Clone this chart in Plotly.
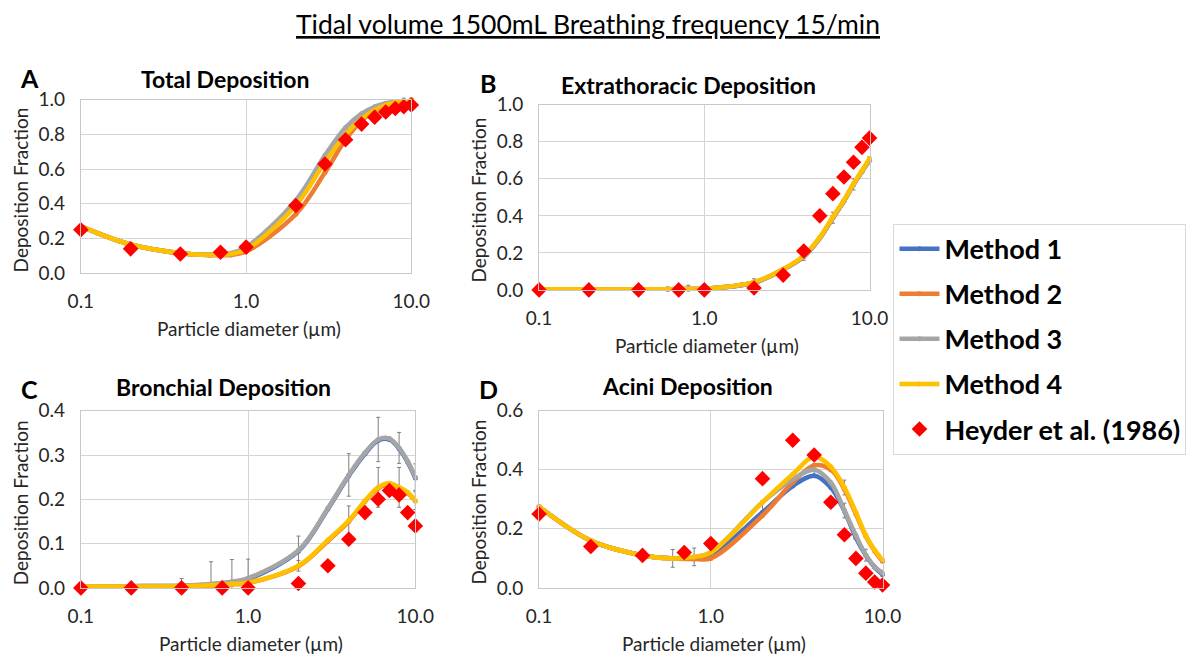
import plotly.graph_objects as go

# ---------------- data ----------------
model_d = [0.1, 0.2, 0.4, 0.6, 0.8, 1.0, 2, 3, 4, 5, 6, 7, 8, 9, 10]
heyder_d = [0.1, 0.2, 0.4, 0.7, 1.0, 2, 3, 4, 5, 6, 7, 8, 9, 10]

# Panel A: total deposition
tot_m1 = [0.27, 0.165, 0.115, 0.105, 0.11, 0.135, 0.40, 0.65, 0.80, 0.89, 0.94, 0.97, 0.985, 0.99, 1.0]
tot_m2 = [0.27, 0.165, 0.115, 0.105, 0.105, 0.125, 0.34, 0.58, 0.77, 0.88, 0.94, 0.97, 0.985, 0.99, 1.0]
tot_m3 = [0.27, 0.165, 0.115, 0.105, 0.115, 0.15, 0.42, 0.68, 0.84, 0.92, 0.96, 0.98, 0.99, 1.0, 1.0]
tot_m4 = [0.27, 0.165, 0.115, 0.105, 0.11, 0.135, 0.39, 0.64, 0.80, 0.89, 0.94, 0.97, 0.985, 0.99, 1.0]
tot_hey = [0.25, 0.14, 0.11, 0.12, 0.15, 0.39, 0.63, 0.77, 0.86, 0.90, 0.93, 0.95, 0.96, 0.97]

# Panel B: extrathoracic deposition
et_m1 = [0.003, 0.003, 0.003, 0.004, 0.005, 0.006, 0.04, 0.11, 0.18, 0.28, 0.39, 0.48, 0.57, 0.64, 0.70]
et_m2 = [0.003, 0.003, 0.003, 0.004, 0.005, 0.006, 0.04, 0.11, 0.18, 0.28, 0.39, 0.48, 0.57, 0.64, 0.70]
et_m3 = [0.003, 0.003, 0.003, 0.004, 0.005, 0.006, 0.04, 0.11, 0.18, 0.28, 0.39, 0.48, 0.57, 0.64, 0.70]
et_m4 = [0.003, 0.003, 0.003, 0.004, 0.005, 0.006, 0.042, 0.112, 0.185, 0.285, 0.395, 0.485, 0.575, 0.645, 0.71]
et_hey = [0.0, 0.0, 0.0, 0.0, 0.0, 0.01, 0.08, 0.21, 0.40, 0.52, 0.61, 0.69, 0.77, 0.82]

# Panel C: bronchial deposition
br_m1 = [0.004, 0.004, 0.005, 0.008, 0.013, 0.02, 0.083, 0.178, 0.253, 0.303, 0.333, 0.335, 0.314, 0.284, 0.248]
br_m2 = [0.003, 0.003, 0.004, 0.005, 0.008, 0.011, 0.049, 0.106, 0.150, 0.195, 0.225, 0.234, 0.226, 0.214, 0.196]
br_m3 = [0.004, 0.004, 0.005, 0.009, 0.014, 0.022, 0.085, 0.18, 0.255, 0.305, 0.335, 0.337, 0.316, 0.286, 0.25]
br_m4 = [0.003, 0.003, 0.004, 0.006, 0.009, 0.012, 0.05, 0.108, 0.152, 0.197, 0.227, 0.236, 0.227, 0.216, 0.197]
br_hey = [0.0, 0.0, 0.0, 0.0, 0.0, 0.01, 0.05, 0.11, 0.17, 0.20, 0.22, 0.21, 0.17, 0.14]

# Panel D: acini deposition
ac_m1 = [0.275, 0.16, 0.11, 0.10, 0.10, 0.11, 0.256, 0.345, 0.38, 0.34, 0.26, 0.17, 0.11, 0.07, 0.045]
ac_m2 = [0.275, 0.16, 0.11, 0.10, 0.098, 0.10, 0.245, 0.357, 0.415, 0.40, 0.334, 0.25, 0.175, 0.125, 0.09]
ac_m3 = [0.275, 0.16, 0.11, 0.10, 0.105, 0.12, 0.29, 0.368, 0.40, 0.357, 0.262, 0.178, 0.111, 0.072, 0.05]
ac_m4 = [0.275, 0.16, 0.11, 0.10, 0.105, 0.12, 0.29, 0.385, 0.444, 0.41, 0.34, 0.256, 0.178, 0.128, 0.095]
ac_hey = [0.25, 0.14, 0.11, 0.12, 0.15, 0.37, 0.50, 0.45, 0.29, 0.18, 0.10, 0.05, 0.02, 0.01]

# error bars (standard deviations at selected diameters)
err_d = [0.4, 0.6, 0.8, 1.0, 2, 4, 6, 8, 10]
et_err_y = [0.003, 0.004, 0.005, 0.006, 0.04, 0.18, 0.39, 0.57, 0.70]
et_err = [0.004, 0.012, 0.02, 0.022, 0.02, 0.02, 0.03, 0.03, 0.02]
br_err_y = [0.005, 0.009, 0.014, 0.022, 0.085, 0.255, 0.335, 0.316, 0.25]
br_err = [0.016, 0.05, 0.05, 0.043, 0.032, 0.048, 0.05, 0.035, 0.03]
br4_err_d = [2, 4, 6, 8, 10]
br4_err_y = [0.05, 0.152, 0.227, 0.227, 0.197]
br4_err = [0.012, 0.033, 0.045, 0.045, 0.02]
ac_err_d = [0.6, 0.8, 2, 4, 6, 8, 10]
ac_err_y = [0.10, 0.105, 0.27, 0.40, 0.262, 0.111, 0.05]
ac_err = [0.03, 0.03, 0.02, 0.02, 0.025, 0.02, 0.01]
ac4_err_d = [6]
ac4_err_y = [0.34]
ac4_err = [0.025]

method_names = ["Method 1", "Method 2", "Method 3", "Method 4"]
method_colors = ["#4472C4", "#ED7D31", "#A5A5A5", "#FFC000"]
x_ticks = [0.1, 1, 10]
x_ticktext = ["0.1", "1.0", "10.0"]

panels = [
    dict(m=[tot_m1, tot_m2, tot_m3, tot_m4], hey=tot_hey, rng=[0, 1.0], dt=0.2,
         dom_x=(83, 414), dom_y=(97, 272), title="Total Deposition", letter="A",
         title_pos=(227, 76), errs=[]),
    dict(m=[et_m1, et_m2, et_m3, et_m4], hey=et_hey, rng=[0, 1.0], dt=0.2,
         dom_x=(542, 873), dom_y=(102, 289), title="Extrathoracic Deposition", letter="B",
         title_pos=(692, 82), errs=[(err_d, et_err_y, et_err)]),
    dict(m=[br_m1, br_m2, br_m3, br_m4], hey=br_hey, rng=[0, 0.4], dt=0.1,
         dom_x=(83, 418), dom_y=(411, 590), title="Bronchial Deposition", letter="C",
         title_pos=(226, 387), errs=[(err_d, br_err_y, br_err), (br4_err_d, br4_err_y, br4_err)]),
    dict(m=[ac_m1, ac_m2, ac_m3, ac_m4], hey=ac_hey, rng=[0, 0.6], dt=0.2,
         dom_x=(542, 886), dom_y=(411, 590), title="Acini Deposition", letter="D",
         title_pos=(691, 386), errs=[(ac_err_d, ac_err_y, ac_err), (ac4_err_d, ac4_err_y, ac4_err)]),
]

W, H = 1200, 662
S = 0.975  # layout scale compensation


def PX(x):
    return (600 + (x - 600) / S) / W


def PY(y):
    return 1 - (331 + (y - 331) / S) / H


FONT = "Lato, 'Open Sans', sans-serif"

fig = go.Figure()
annotations = []

for i, p in enumerate(panels):
    sfx = "" if i == 0 else str(i + 1)
    xa, ya = "x" + sfx, "y" + sfx
    for (ex, ey, ev) in p["errs"]:
        fig.add_trace(go.Scatter(
            x=ex, y=ey, mode="markers", marker=dict(size=1, opacity=0),
            error_y=dict(type="data", array=ev, color="#7f7f7f", thickness=1, width=2),
            showlegend=False, hoverinfo="skip", xaxis=xa, yaxis=ya, cliponaxis=False))
    for k in range(4):
        fig.add_trace(go.Scatter(
            x=model_d, y=p["m"][k], mode="lines+markers", name=method_names[k],
            line=dict(color=method_colors[k], width=4.5, shape="spline", smoothing=1.0),
            marker=dict(size=5, color=method_colors[k]),
            legendgroup=method_names[k], showlegend=(i == 0),
            xaxis=xa, yaxis=ya, cliponaxis=False))
    fig.add_trace(go.Scatter(
        x=heyder_d, y=p["hey"], mode="markers", name="Heyder et al. (1986)",
        marker=dict(symbol="diamond", size=12, color="#FF0000"),
        legendgroup="heyder", showlegend=(i == 0),
        xaxis=xa, yaxis=ya, cliponaxis=False))

    x0, x1 = p["dom_x"]
    y0, y1 = p["dom_y"]
    common = dict(showline=True, mirror=True, linecolor="#c8c8c8", linewidth=1,
                  gridcolor="#d4d4d4", gridwidth=1, zeroline=False,
                  tickfont=dict(family=FONT, size=19, color="#262626"), ticks="")
    fig.update_layout(**{
        "xaxis" + sfx: dict(domain=[PX(x0), PX(x1)], anchor=ya, type="log", range=[-1, 1],
                            tickvals=x_ticks, ticktext=x_ticktext, ticklabelstandoff=11, **common),
        "yaxis" + sfx: dict(domain=[PY(y1), PY(y0)], anchor=xa, range=p["rng"],
                            dtick=p["dt"], tick0=0, tickformat=".1f", ticklabelstandoff=11, **common),
    })
    cx = (x0 + x1) / 2
    tx, ty = p["title_pos"]
    annotations.append(dict(text="<b>" + p["title"] + "</b>", x=PX(tx), y=PY(ty),
                            xref="paper", yref="paper", showarrow=False, xanchor="center",
                            yanchor="middle", font=dict(family=FONT, size=23, color="black")))
    annotations.append(dict(text="<b>" + p["letter"] + "</b>", x=PX(x0 - 51), y=PY(y0 - 22),
                            xref="paper", yref="paper", showarrow=False, xanchor="center",
                            yanchor="middle", font=dict(family=FONT, size=25, color="black")))
    annotations.append(dict(text="Deposition Fraction", x=PX(x0 - 61), y=PY((y0 + y1) / 2 + 3),
                            xref="paper", yref="paper", showarrow=False, textangle=-90,
                            xanchor="center", yanchor="middle",
                            font=dict(family=FONT, size=19, color="#262626")))
    annotations.append(dict(text="Particle diameter (µm)", x=PX(cx + 3), y=PY(y1 + 56),
                            xref="paper", yref="paper", showarrow=False,
                            xanchor="center", yanchor="middle",
                            font=dict(family=FONT, size=19, color="#262626")))

annotations.append(dict(text="<u>Tidal volume 1500mL Breathing frequency 15/min</u>",
                        x=PX(591), y=PY(20), xref="paper", yref="paper", showarrow=False,
                        xanchor="center", yanchor="middle",
                        font=dict(family=FONT, size=26.5, color="black")))

fig.update_layout(
    width=W, height=H, margin=dict(l=0, r=0, t=0, b=0),
    paper_bgcolor="white", plot_bgcolor="white",
    annotations=annotations,
    legend=dict(x=PX(897), y=PY(222), xanchor="left", yanchor="top",
                bgcolor="white", bordercolor="#d9d9d9", borderwidth=1,
                font=dict(family=FONT, size=27, color="black", weight="bold"),
                tracegroupgap=7, itemwidth=40),
    showlegend=True,
)

fig.write_html("out.html", post_script="document.body.style.margin='0';")
